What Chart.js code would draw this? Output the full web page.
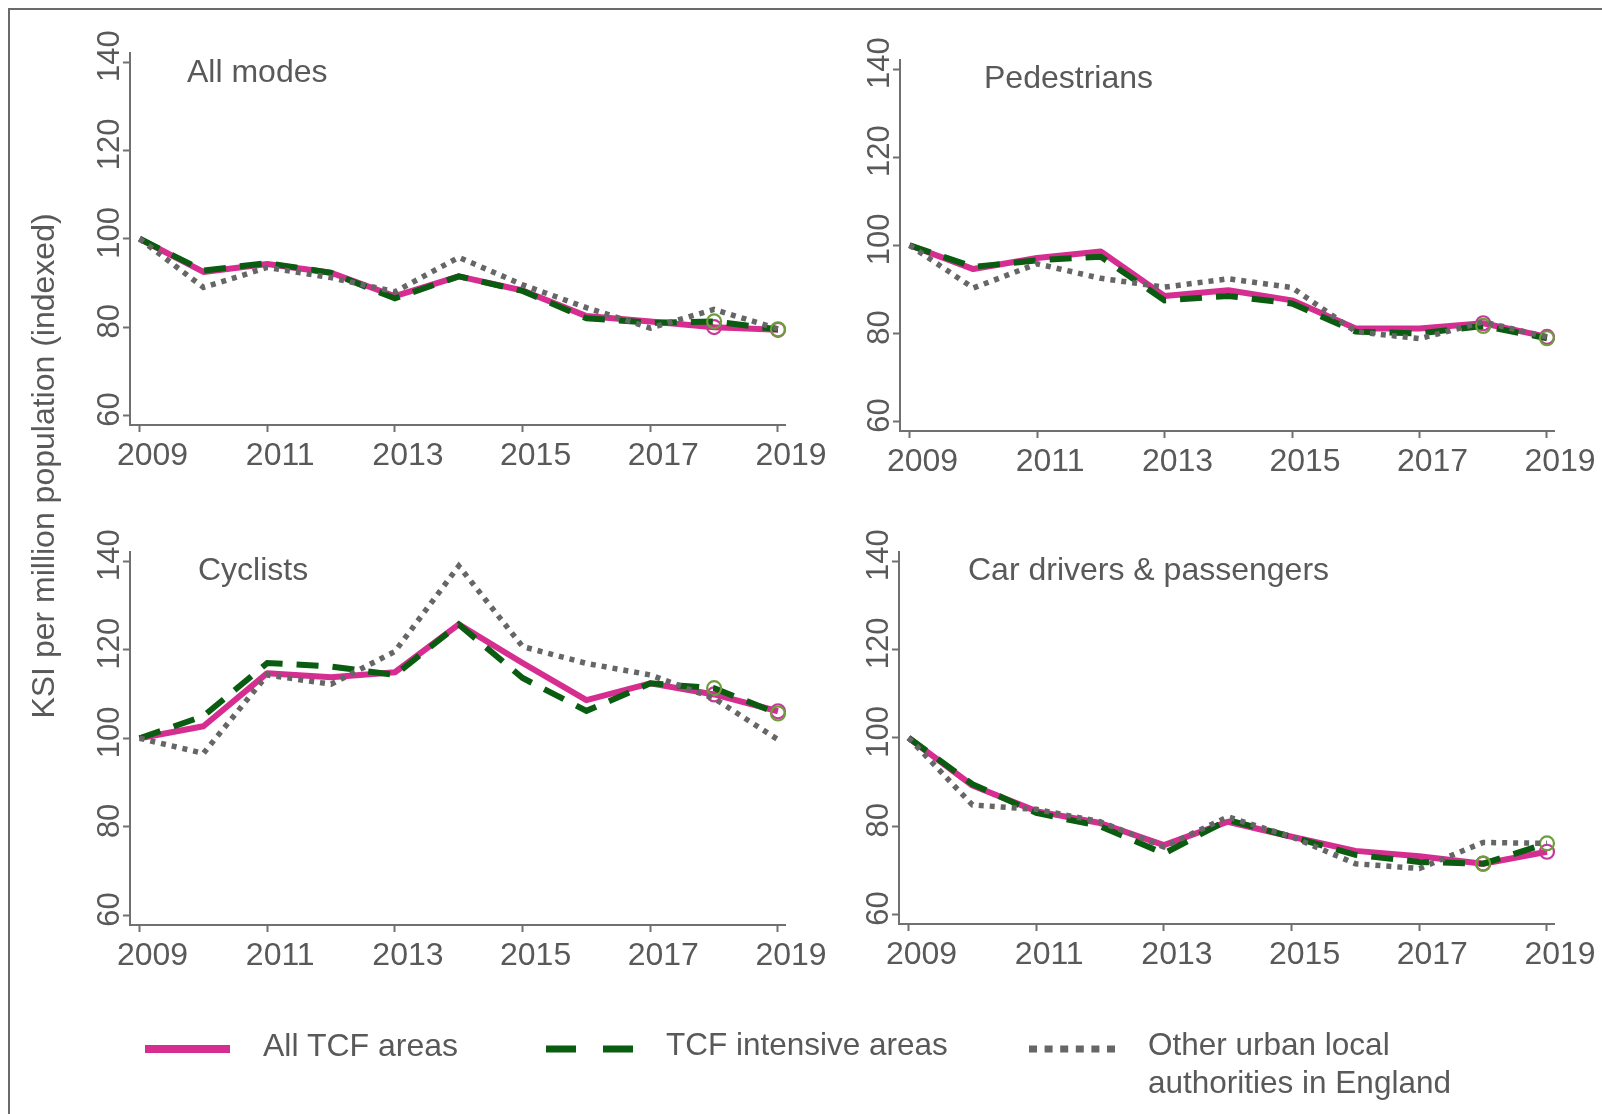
<!DOCTYPE html>
<html>
<head>
<meta charset="utf-8">
<script src="https://cdn.jsdelivr.net/npm/chart.js@4.4.1/dist/chart.umd.min.js"></script>
<style>
html,body{margin:0;padding:0;background:#fff;}
body{width:1602px;height:1114px;position:relative;overflow:hidden;font-family:'Liberation Sans',Arial,Helvetica,sans-serif;color:#595959;}
canvas{position:absolute;}
.frame{position:absolute;left:8px;top:8px;width:1700px;height:1200px;border-left:2px solid #6a6a6a;border-top:2px solid #6a6a6a;box-sizing:border-box;}
.t{position:absolute;font-size:31px;line-height:31px;white-space:nowrap;color:#595959;}
.ytitle{position:absolute;font-size:32px;line-height:32px;white-space:nowrap;color:#595959;transform:translate(-50%,-50%) rotate(-90deg);}
svg{position:absolute;left:0;top:0;}
</style>
</head>
<body>
<div class="frame"></div>
<div id="root"></div>
<script>
// ---------------- data ----------------
const years = [2009, 2010, 2011, 2012, 2013, 2014, 2015, 2016, 2017, 2018, 2019];
const xTickYears = [2009, 2011, 2013, 2015, 2017, 2019];
const yTickValues = [60, 80, 100, 120, 140];
const markedYears = [2018, 2019];

const panelTitles = ['All modes', 'Pedestrians', 'Cyclists', 'Car drivers & passengers'];
const seriesNames = ['All TCF areas', 'TCF intensive areas', 'Other urban local authorities in England'];
const yAxisTitle = 'KSI per million population (indexed)';

const allModesTCF       = [100, 92.5, 94.3, 92.3, 87.0, 91.5, 88.3, 82.5, 81.3, 80.0, 79.4];
const allModesIntensive = [100, 92.8, 94.5, 92.3, 86.5, 91.5, 88.2, 82.0, 81.0, 81.3, 79.5];
const allModesOther     = [100, 89.0, 93.5, 91.2, 88.0, 95.8, 89.6, 84.4, 79.8, 84.0, 79.6];

const pedestriansTCF       = [100, 94.6, 97.1, 98.6, 88.5, 89.8, 87.5, 81.1, 81.1, 82.3, 79.2];
const pedestriansIntensive = [100, 95.1, 96.6, 97.4, 87.5, 88.5, 86.8, 80.4, 80.0, 81.7, 78.9];
const pedestriansOther     = [100, 90.3, 95.8, 92.5, 90.5, 92.4, 90.4, 80.4, 78.8, 82.6, 79.2];

const cyclistsTCF       = [100, 102.7, 114.7, 113.8, 114.9, 125.7, 117.0, 108.6, 112.4, 109.9, 106.1];
const cyclistsIntensive = [100, 105.0, 117.0, 116.2, 114.3, 125.7, 113.6, 106.2, 112.4, 111.3, 105.6];
const cyclistsOther     = [100, 96.6, 114.3, 112.2, 119.6, 138.9, 120.7, 116.9, 114.3, 109.0, 99.7];

const carTCF       = [100, 89.2, 83.4, 80.7, 75.7, 81.0, 77.6, 74.4, 73.2, 71.5, 74.2];
const carIntensive = [100, 89.5, 83.0, 80.0, 73.8, 81.4, 77.6, 73.5, 71.9, 71.5, 76.1];
const carOther     = [100, 84.8, 83.8, 81.0, 75.3, 82.1, 77.6, 71.5, 70.4, 76.3, 76.1];

// ---------------- styles / layout ----------------
const PINK = '#d62e90', PINK_MARK = '#c8389a';
const GREEN = '#0a5c10', OLIVE = '#6d9e3c';
const GRAY = '#666666';
const AXIS = '#707070';
const TEXT = '#595959';
const FONT = "'Liberation Sans', Arial, Helvetica, sans-serif";
const X_MIN = 2008.85, X_MAX = 2019.11;
const Y_MIN = 57.85, Y_MAX = 142.05;

Chart.defaults.font.family = FONT;

// canvas box (page px) and chart area inside it
const panels = [
  {title: 0, data: [allModesTCF, allModesIntensive, allModesOther],
   cx: 0,   cy: 0,   cw: 830, ch: 500, left: 130, right: 785,  top: 53,  bottom: 425, tx: 187, tb: 82.5},
  {title: 1, data: [pedestriansTCF, pedestriansIntensive, pedestriansOther],
   cx: 830, cy: 0,   cw: 772, ch: 500, left: 900, right: 1554, top: 60,  bottom: 431, tx: 984, tb: 88},
  {title: 2, data: [cyclistsTCF, cyclistsIntensive, cyclistsOther],
   cx: 0,   cy: 500, cw: 830, ch: 500, left: 130, right: 785,  top: 552, bottom: 925, tx: 198, tb: 580},
  {title: 3, data: [carTCF, carIntensive, carOther],
   cx: 830, cy: 500, cw: 772, ch: 500, left: 899, right: 1554, top: 552, bottom: 924, tx: 968, tb: 580.5}
];

const X_AXIS_H = 60;
const root = document.getElementById('root');

function addText(txt, left, baseline, size) {
  const d = document.createElement('div');
  d.className = 't';
  d.style.fontSize = size + 'px';
  d.style.lineHeight = size + 'px';
  d.style.left = left + 'px';
  d.style.top = (baseline - 0.8465 * size) + 'px';
  d.innerHTML = txt;
  root.appendChild(d);
}

function series(vals) { return years.map((x, i) => ({x: x, y: vals[i]})); }
function markerRadius(r) { return years.map(y => markedYears.includes(y) ? r : 0); }

function makeDatasets(d) {
  return [
    {label: seriesNames[0], data: series(d[0]), borderColor: PINK, borderWidth: 6,
     borderJoinStyle: 'round', borderCapStyle: 'butt', tension: 0, fill: false,
     pointRadius: markerRadius(7), pointBorderWidth: 2.2, pointBorderColor: PINK_MARK,
     pointBackgroundColor: 'rgba(0,0,0,0)', order: 3, clip: false},
    {label: seriesNames[1], data: series(d[1]), borderColor: GREEN, borderWidth: 6,
     borderDash: [22, 14], borderJoinStyle: 'miter', borderCapStyle: 'butt', tension: 0, fill: false,
     pointRadius: markerRadius(7), pointBorderWidth: 2.2, pointBorderColor: OLIVE,
     pointBackgroundColor: 'rgba(0,0,0,0)', order: 2, clip: false},
    {label: seriesNames[2], data: series(d[2]), borderColor: GRAY, borderWidth: 5.5,
     borderDash: [5, 6], borderJoinStyle: 'miter', borderCapStyle: 'butt', tension: 0, fill: false,
     pointRadius: 0, order: 1, clip: false}
  ];
}

panels.forEach(p => {
  const c = document.createElement('canvas');
  c.width = p.cw; c.height = p.ch;
  c.style.left = p.cx + 'px'; c.style.top = p.cy + 'px';
  c.style.width = p.cw + 'px'; c.style.height = p.ch + 'px';
  root.appendChild(c);
  const yW = p.left - p.cx;
  const padTop = p.top - p.cy;
  const padRight = p.cx + p.cw - p.right;
  const padBottom = p.cy + p.ch - p.bottom - X_AXIS_H;
  new Chart(c.getContext('2d'), {
    type: 'line',
    data: {datasets: makeDatasets(p.data)},
    options: {
      responsive: false, maintainAspectRatio: false, animation: false, devicePixelRatio: 1,
      events: [],
      layout: {padding: {left: 0, top: padTop, right: padRight, bottom: padBottom}},
      plugins: {legend: {display: false}, tooltip: {enabled: false}, title: {display: false}},
      scales: {
        x: {
          type: 'linear', position: 'bottom', min: X_MIN, max: X_MAX,
          afterBuildTicks: s => { s.ticks = xTickYears.map(v => ({value: v})); },
          afterFit: s => { s.height = X_AXIS_H; },
          grid: {display: true, drawOnChartArea: false, drawTicks: true, tickLength: 7, tickWidth: 2, tickColor: AXIS},
          border: {display: true, color: AXIS, width: 2},
          ticks: {font: {family: FONT, size: 32}, color: TEXT, padding: 5, labelOffset: 13,
                  autoSkip: false, maxRotation: 0, minRotation: 0, callback: v => String(v)}
        },
        y: {
          type: 'linear', position: 'left', min: Y_MIN, max: Y_MAX,
          afterBuildTicks: s => { s.ticks = yTickValues.map(v => ({value: v})); },
          afterFit: s => { s.width = yW; },
          grid: {display: true, drawOnChartArea: false, drawTicks: true, tickLength: 7, tickWidth: 2, tickColor: AXIS},
          border: {display: true, color: AXIS, width: 2},
          ticks: {font: {family: FONT, size: 31}, color: TEXT, padding: -13, minRotation: 90, maxRotation: 90,
                  crossAlign: 'center', labelOffset: -6, autoSkip: false, callback: v => String(v)}
        }
      }
    }
  });
  addText(panelTitles[p.title], p.tx, p.tb, 32);
});

// y axis title
const yt = document.createElement('div');
yt.className = 'ytitle';
yt.style.left = '43px'; yt.style.top = '466px';
yt.textContent = yAxisTitle;
root.appendChild(yt);

// legend
const svgNS = 'http://www.w3.org/2000/svg';
const svg = document.createElementNS(svgNS, 'svg');
svg.setAttribute('width', '1602'); svg.setAttribute('height', '1114');
const legendSamples = [
  {x1: 145, x2: 230, color: PINK, w: 8, dash: null},
  {x1: 546, x2: 633, color: GREEN, w: 7, dash: '30 27'},
  {x1: 1029, x2: 1115, color: GRAY, w: 7, dash: '8 7.6'}
];
legendSamples.forEach(s => {
  const l = document.createElementNS(svgNS, 'line');
  l.setAttribute('x1', s.x1); l.setAttribute('x2', s.x2);
  l.setAttribute('y1', 1049); l.setAttribute('y2', 1049);
  l.setAttribute('stroke', s.color); l.setAttribute('stroke-width', s.w);
  if (s.dash) l.setAttribute('stroke-dasharray', s.dash);
  svg.appendChild(l);
});
root.appendChild(svg);
addText(seriesNames[0], 263, 1056, 32);
addText(seriesNames[1], 666, 1056, 31.5);
addText('Other urban local', 1148, 1056, 31.5);
addText('authorities in England', 1148, 1094, 31.5);
</script>
</body>
</html>
